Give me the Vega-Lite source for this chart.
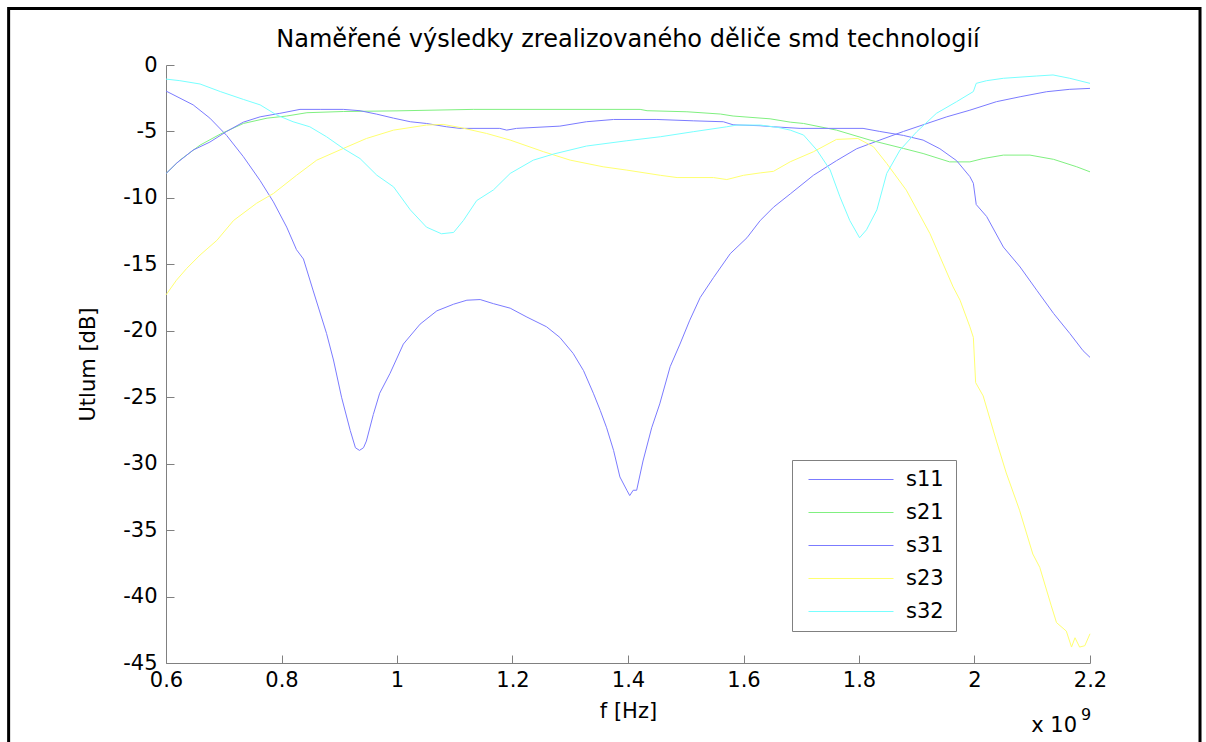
{
  "$schema": "https://vega.github.io/schema/vega-lite/v6.json",
  "width": 924,
  "height": 598,
  "autosize": "none",
  "padding": {"left": 166, "top": 65, "right": 116, "bottom": 79},
  "background": "white",
  "config": {
    "font": "DejaVu Sans",
    "view": {"stroke": null},
    "axis": {
      "domainColor": "#808080",
      "tickColor": "#808080",
      "grid": false,
      "labelColor": "black",
      "labelFont": "DejaVu Sans",
      "labelFontSize": 21,
      "titleFont": "DejaVu Sans",
      "titleFontSize": 21,
      "titleFontWeight": "normal",
      "titleColor": "black",
      "labelFlush": false,
      "labelOverlap": false
    }
  },
  "title": {
    "text": "Naměřené výsledky zrealizovaného děliče smd technologií",
    "fontSize": 24,
    "fontWeight": "normal",
    "font": "DejaVu Sans",
    "color": "black",
    "anchor": "middle",
    "frame": "group",
    "offset": -45
  },
  "resolve": {"axis": {"x": "independent", "y": "independent"}},
  "datasets": {
    "meas": [
      {"f":0.6,"db":-1.96,"s":"s11"},{"f":0.647,"db":-3.0,"s":"s11"},{"f":0.676,"db":-4.0,"s":"s11"},{"f":0.705,"db":-5.3,"s":"s11"},{"f":0.734,"db":-6.9,"s":"s11"},{"f":0.763,"db":-8.7,"s":"s11"},{"f":0.786,"db":-10.3,"s":"s11"},{"f":0.809,"db":-12.2,"s":"s11"},{"f":0.826,"db":-13.9,"s":"s11"},{"f":0.838,"db":-14.6,"s":"s11"},{"f":0.855,"db":-17.0,"s":"s11"},{"f":0.878,"db":-20.2,"s":"s11"},{"f":0.89,"db":-22.2,"s":"s11"},{"f":0.904,"db":-25.0,"s":"s11"},{"f":0.919,"db":-27.5,"s":"s11"},{"f":0.928,"db":-28.8,"s":"s11"},{"f":0.935,"db":-29.0,"s":"s11"},{"f":0.942,"db":-28.8,"s":"s11"},{"f":0.947,"db":-28.3,"s":"s11"},{"f":0.959,"db":-26.3,"s":"s11"},{"f":0.97,"db":-24.7,"s":"s11"},{"f":0.988,"db":-23.2,"s":"s11"},{"f":1.011,"db":-21.0,"s":"s11"},{"f":1.04,"db":-19.5,"s":"s11"},{"f":1.069,"db":-18.5,"s":"s11"},{"f":1.098,"db":-18.0,"s":"s11"},{"f":1.121,"db":-17.7,"s":"s11"},{"f":1.144,"db":-17.65,"s":"s11"},{"f":1.167,"db":-17.96,"s":"s11"},{"f":1.196,"db":-18.3,"s":"s11"},{"f":1.225,"db":-18.97,"s":"s11"},{"f":1.259,"db":-19.7,"s":"s11"},{"f":1.282,"db":-20.5,"s":"s11"},{"f":1.305,"db":-21.7,"s":"s11"},{"f":1.323,"db":-23.0,"s":"s11"},{"f":1.34,"db":-24.7,"s":"s11"},{"f":1.352,"db":-26.0,"s":"s11"},{"f":1.363,"db":-27.3,"s":"s11"},{"f":1.375,"db":-29.0,"s":"s11"},{"f":1.386,"db":-31.0,"s":"s11"},{"f":1.398,"db":-32.0,"s":"s11"},{"f":1.403,"db":-32.4,"s":"s11"},{"f":1.409,"db":-32.0,"s":"s11"},{"f":1.415,"db":-32.0,"s":"s11"},{"f":1.426,"db":-29.8,"s":"s11"},{"f":1.441,"db":-27.3,"s":"s11"},{"f":1.455,"db":-25.5,"s":"s11"},{"f":1.473,"db":-22.7,"s":"s11"},{"f":1.49,"db":-21.0,"s":"s11"},{"f":1.507,"db":-19.2,"s":"s11"},{"f":1.525,"db":-17.5,"s":"s11"},{"f":1.548,"db":-16.0,"s":"s11"},{"f":1.577,"db":-14.2,"s":"s11"},{"f":1.606,"db":-13.0,"s":"s11"},{"f":1.629,"db":-11.7,"s":"s11"},{"f":1.652,"db":-10.7,"s":"s11"},{"f":1.681,"db":-9.7,"s":"s11"},{"f":1.721,"db":-8.3,"s":"s11"},{"f":1.761,"db":-7.2,"s":"s11"},{"f":1.796,"db":-6.3,"s":"s11"},{"f":1.836,"db":-5.65,"s":"s11"},{"f":1.877,"db":-5.0,"s":"s11"},{"f":1.911,"db":-4.5,"s":"s11"},{"f":1.952,"db":-3.9,"s":"s11"},{"f":1.992,"db":-3.4,"s":"s11"},{"f":2.038,"db":-2.76,"s":"s11"},{"f":2.079,"db":-2.39,"s":"s11"},{"f":2.125,"db":-2.01,"s":"s11"},{"f":2.165,"db":-1.83,"s":"s11"},{"f":2.2,"db":-1.76,"s":"s11"},

      {"f":0.6,"db":-8.17,"s":"s21"},{"f":0.624,"db":-7.16,"s":"s21"},{"f":0.659,"db":-6.03,"s":"s21"},{"f":0.694,"db":-5.2,"s":"s21"},{"f":0.734,"db":-4.4,"s":"s21"},{"f":0.775,"db":-4.0,"s":"s21"},{"f":0.809,"db":-3.84,"s":"s21"},{"f":0.844,"db":-3.59,"s":"s21"},{"f":0.907,"db":-3.5,"s":"s21"},{"f":1.0,"db":-3.45,"s":"s21"},{"f":1.132,"db":-3.34,"s":"s21"},{"f":1.421,"db":-3.34,"s":"s21"},{"f":1.433,"db":-3.44,"s":"s21"},{"f":1.502,"db":-3.52,"s":"s21"},{"f":1.56,"db":-3.69,"s":"s21"},{"f":1.582,"db":-3.84,"s":"s21"},{"f":1.646,"db":-4.05,"s":"s21"},{"f":1.681,"db":-4.3,"s":"s21"},{"f":1.704,"db":-4.4,"s":"s21"},{"f":1.761,"db":-4.9,"s":"s21"},{"f":1.819,"db":-5.65,"s":"s21"},{"f":1.877,"db":-6.28,"s":"s21"},{"f":1.911,"db":-6.66,"s":"s21"},{"f":1.957,"db":-7.29,"s":"s21"},{"f":1.992,"db":-7.29,"s":"s21"},{"f":2.015,"db":-7.04,"s":"s21"},{"f":2.05,"db":-6.78,"s":"s21"},{"f":2.096,"db":-6.78,"s":"s21"},{"f":2.137,"db":-7.1,"s":"s21"},{"f":2.177,"db":-7.66,"s":"s21"},{"f":2.2,"db":-8.04,"s":"s21"},

      {"f":0.6,"db":-8.17,"s":"s31"},{"f":0.618,"db":-7.4,"s":"s31"},{"f":0.647,"db":-6.4,"s":"s31"},{"f":0.676,"db":-5.8,"s":"s31"},{"f":0.705,"db":-5.0,"s":"s31"},{"f":0.734,"db":-4.3,"s":"s31"},{"f":0.763,"db":-3.9,"s":"s31"},{"f":0.797,"db":-3.64,"s":"s31"},{"f":0.832,"db":-3.34,"s":"s31"},{"f":0.867,"db":-3.34,"s":"s31"},{"f":0.907,"db":-3.34,"s":"s31"},{"f":0.936,"db":-3.44,"s":"s31"},{"f":0.965,"db":-3.7,"s":"s31"},{"f":0.994,"db":-4.0,"s":"s31"},{"f":1.023,"db":-4.27,"s":"s31"},{"f":1.051,"db":-4.4,"s":"s31"},{"f":1.086,"db":-4.65,"s":"s31"},{"f":1.109,"db":-4.77,"s":"s31"},{"f":1.178,"db":-4.77,"s":"s31"},{"f":1.19,"db":-4.9,"s":"s31"},{"f":1.207,"db":-4.77,"s":"s31"},{"f":1.282,"db":-4.6,"s":"s31"},{"f":1.328,"db":-4.27,"s":"s31"},{"f":1.375,"db":-4.1,"s":"s31"},{"f":1.45,"db":-4.1,"s":"s31"},{"f":1.513,"db":-4.2,"s":"s31"},{"f":1.565,"db":-4.27,"s":"s31"},{"f":1.582,"db":-4.5,"s":"s31"},{"f":1.629,"db":-4.57,"s":"s31"},{"f":1.652,"db":-4.65,"s":"s31"},{"f":1.698,"db":-4.77,"s":"s31"},{"f":1.807,"db":-4.77,"s":"s31"},{"f":1.836,"db":-5.0,"s":"s31"},{"f":1.877,"db":-5.3,"s":"s31"},{"f":1.911,"db":-5.65,"s":"s31"},{"f":1.94,"db":-6.3,"s":"s31"},{"f":1.969,"db":-7.2,"s":"s31"},{"f":1.992,"db":-8.4,"s":"s31"},{"f":1.998,"db":-8.9,"s":"s31"},{"f":2.003,"db":-10.5,"s":"s31"},{"f":2.021,"db":-11.4,"s":"s31"},{"f":2.05,"db":-13.7,"s":"s31"},{"f":2.079,"db":-15.2,"s":"s31"},{"f":2.108,"db":-16.96,"s":"s31"},{"f":2.137,"db":-18.7,"s":"s31"},{"f":2.165,"db":-20.2,"s":"s31"},{"f":2.188,"db":-21.5,"s":"s31"},{"f":2.2,"db":-22.0,"s":"s31"},

      {"f":0.6,"db":-17.3,"s":"s23"},{"f":0.618,"db":-16.2,"s":"s23"},{"f":0.636,"db":-15.3,"s":"s23"},{"f":0.659,"db":-14.3,"s":"s23"},{"f":0.688,"db":-13.2,"s":"s23"},{"f":0.717,"db":-11.7,"s":"s23"},{"f":0.757,"db":-10.4,"s":"s23"},{"f":0.786,"db":-9.67,"s":"s23"},{"f":0.826,"db":-8.3,"s":"s23"},{"f":0.861,"db":-7.16,"s":"s23"},{"f":0.907,"db":-6.28,"s":"s23"},{"f":0.947,"db":-5.53,"s":"s23"},{"f":0.994,"db":-4.9,"s":"s23"},{"f":1.051,"db":-4.52,"s":"s23"},{"f":1.08,"db":-4.47,"s":"s23"},{"f":1.109,"db":-4.7,"s":"s23"},{"f":1.155,"db":-5.15,"s":"s23"},{"f":1.196,"db":-5.65,"s":"s23"},{"f":1.254,"db":-6.53,"s":"s23"},{"f":1.3,"db":-7.16,"s":"s23"},{"f":1.357,"db":-7.66,"s":"s23"},{"f":1.398,"db":-7.91,"s":"s23"},{"f":1.456,"db":-8.3,"s":"s23"},{"f":1.485,"db":-8.47,"s":"s23"},{"f":1.548,"db":-8.47,"s":"s23"},{"f":1.571,"db":-8.62,"s":"s23"},{"f":1.6,"db":-8.3,"s":"s23"},{"f":1.629,"db":-8.12,"s":"s23"},{"f":1.652,"db":-8.0,"s":"s23"},{"f":1.681,"db":-7.28,"s":"s23"},{"f":1.721,"db":-6.53,"s":"s23"},{"f":1.761,"db":-5.6,"s":"s23"},{"f":1.798,"db":-5.53,"s":"s23"},{"f":1.825,"db":-6.15,"s":"s23"},{"f":1.848,"db":-7.41,"s":"s23"},{"f":1.882,"db":-9.42,"s":"s23"},{"f":1.923,"db":-12.7,"s":"s23"},{"f":1.963,"db":-16.7,"s":"s23"},{"f":1.975,"db":-17.7,"s":"s23"},{"f":1.992,"db":-19.7,"s":"s23"},{"f":1.998,"db":-20.5,"s":"s23"},{"f":2.002,"db":-23.9,"s":"s23"},{"f":2.015,"db":-24.9,"s":"s23"},{"f":2.038,"db":-28.3,"s":"s23"},{"f":2.055,"db":-30.7,"s":"s23"},{"f":2.078,"db":-33.5,"s":"s23"},{"f":2.101,"db":-36.8,"s":"s23"},{"f":2.113,"db":-37.8,"s":"s23"},{"f":2.133,"db":-40.7,"s":"s23"},{"f":2.142,"db":-41.96,"s":"s23"},{"f":2.159,"db":-42.6,"s":"s23"},{"f":2.168,"db":-43.8,"s":"s23"},{"f":2.174,"db":-43.1,"s":"s23"},{"f":2.182,"db":-43.8,"s":"s23"},{"f":2.191,"db":-43.7,"s":"s23"},{"f":2.2,"db":-42.8,"s":"s23"},

      {"f":0.6,"db":-1.06,"s":"s32"},{"f":0.624,"db":-1.18,"s":"s32"},{"f":0.659,"db":-1.43,"s":"s32"},{"f":0.694,"db":-2.0,"s":"s32"},{"f":0.734,"db":-2.59,"s":"s32"},{"f":0.763,"db":-3.0,"s":"s32"},{"f":0.792,"db":-3.77,"s":"s32"},{"f":0.82,"db":-4.27,"s":"s32"},{"f":0.849,"db":-4.65,"s":"s32"},{"f":0.878,"db":-5.4,"s":"s32"},{"f":0.907,"db":-6.28,"s":"s32"},{"f":0.936,"db":-7.04,"s":"s32"},{"f":0.965,"db":-8.29,"s":"s32"},{"f":0.994,"db":-9.17,"s":"s32"},{"f":1.023,"db":-10.9,"s":"s32"},{"f":1.051,"db":-12.2,"s":"s32"},{"f":1.077,"db":-12.7,"s":"s32"},{"f":1.098,"db":-12.6,"s":"s32"},{"f":1.115,"db":-11.7,"s":"s32"},{"f":1.138,"db":-10.2,"s":"s32"},{"f":1.167,"db":-9.4,"s":"s32"},{"f":1.196,"db":-8.16,"s":"s32"},{"f":1.236,"db":-7.16,"s":"s32"},{"f":1.271,"db":-6.7,"s":"s32"},{"f":1.328,"db":-6.1,"s":"s32"},{"f":1.398,"db":-5.7,"s":"s32"},{"f":1.456,"db":-5.4,"s":"s32"},{"f":1.513,"db":-5.02,"s":"s32"},{"f":1.571,"db":-4.65,"s":"s32"},{"f":1.588,"db":-4.52,"s":"s32"},{"f":1.629,"db":-4.52,"s":"s32"},{"f":1.66,"db":-4.7,"s":"s32"},{"f":1.681,"db":-4.9,"s":"s32"},{"f":1.704,"db":-5.27,"s":"s32"},{"f":1.727,"db":-6.4,"s":"s32"},{"f":1.75,"db":-7.9,"s":"s32"},{"f":1.767,"db":-9.92,"s":"s32"},{"f":1.784,"db":-11.7,"s":"s32"},{"f":1.801,"db":-13.0,"s":"s32"},{"f":1.813,"db":-12.4,"s":"s32"},{"f":1.831,"db":-10.9,"s":"s32"},{"f":1.848,"db":-8.16,"s":"s32"},{"f":1.871,"db":-6.4,"s":"s32"},{"f":1.9,"db":-5.02,"s":"s32"},{"f":1.934,"db":-3.64,"s":"s32"},{"f":1.969,"db":-2.76,"s":"s32"},{"f":1.998,"db":-2.0,"s":"s32"},{"f":2.003,"db":-1.38,"s":"s32"},{"f":2.021,"db":-1.18,"s":"s32"},{"f":2.05,"db":-1.0,"s":"s32"},{"f":2.107,"db":-0.83,"s":"s32"},{"f":2.136,"db":-0.75,"s":"s32"},{"f":2.165,"db":-1.0,"s":"s32"},{"f":2.2,"db":-1.38,"s":"s32"}
    ]
  },
  "layer": [
    {
      "data": {"values": [{}]},
      "mark": {"type": "rect", "filled": false, "color": "black", "strokeWidth": 3, "clip": false},
      "encoding": {
        "x": {
          "datum": 0.3275, "type": "quantitative",
          "scale": {"domain": [0.6, 2.2], "nice": false, "zero": false},
          "axis": {"orient": "bottom", "offset": -8, "values": [0.6, 0.8, 1, 1.2, 1.4, 1.6, 1.8, 2, 2.2], "ticks": true, "tickSize": 8, "domain": false, "labels": false, "title": null}
        },
        "x2": {"datum": 2.3905},
        "y": {
          "datum": 4.26, "type": "quantitative",
          "scale": {"domain": [-45, 0], "nice": false, "zero": false},
          "axis": {"orient": "left", "offset": -8, "values": [0, -5, -10, -15, -20, -25, -30, -35, -40, -45], "ticks": true, "tickSize": 8, "domain": false, "labels": false, "title": null}
        },
        "y2": {"datum": -52}
      }
    },
    {
      "data": {"name": "meas"},
      "mark": {"type": "line", "strokeWidth": 1, "interpolate": "linear"},
      "encoding": {
        "x": {
          "field": "f", "type": "quantitative",
          "scale": {"domain": [0.6, 2.2], "nice": false, "zero": false},
          "axis": {
            "orient": "bottom",
            "values": [0.6, 0.8, 1, 1.2, 1.4, 1.6, 1.8, 2, 2.2],
            "labelExpr": "'' + datum.value",
            "ticks": false,
            "title": "f [Hz]",
            "labelPadding": 6,
            "titlePadding": 10
          }
        },
        "y": {
          "field": "db", "type": "quantitative",
          "scale": {"domain": [-45, 0], "nice": false, "zero": false},
          "axis": {
            "orient": "left",
            "values": [0, -5, -10, -15, -20, -25, -30, -35, -40, -45],
            "labelExpr": "'' + datum.value",
            "ticks": false,
            "title": "Utlum [dB]",
            "labelPadding": 9,
            "titlePadding": 24
          }
        },
        "color": {
          "field": "s", "type": "nominal",
          "scale": {"domain": ["s11", "s21", "s31", "s23", "s32"], "range": ["#7b7bff", "#80f080", "#7b7bff", "#ffff70", "#78ffff"]},
          "legend": {
            "title": "\u00a0",
            "titleOrient": "right",
            "titleFontSize": 10,
            "titlePadding": 9,
            "orient": "none",
            "legendX": 626,
            "legendY": 395,
            "symbolType": "stroke",
            "symbolSize": 7225,
            "symbolStrokeWidth": 1,
            "clipHeight": 33,
            "padding": 3,
            "symbolOffset": 13,
            "labelOffset": 12,
            "labelFontSize": 21,
            "labelFont": "DejaVu Sans",
            "labelColor": "black",
            "strokeColor": "#808080",
            "fillColor": "white",
            "rowPadding": 0
          }
        }
      }
    },
    {
      "data": {"values": [{}]},
      "mark": {"type": "text", "text": "x 10", "align": "right", "baseline": "alphabetic", "fontSize": 21, "font": "DejaVu Sans", "dx": -13, "dy": 69, "color": "black"},
      "encoding": {
        "x": {"datum": 2.2, "type": "quantitative", "axis": null},
        "y": {"datum": -45, "type": "quantitative", "axis": null}
      }
    },
    {
      "data": {"values": [{}]},
      "mark": {"type": "text", "text": "9", "align": "left", "baseline": "alphabetic", "fontSize": 16, "font": "DejaVu Sans", "dx": -9, "dy": 57, "color": "black"},
      "encoding": {
        "x": {"datum": 2.2, "type": "quantitative", "axis": null},
        "y": {"datum": -45, "type": "quantitative", "axis": null}
      }
    }
  ]
}
